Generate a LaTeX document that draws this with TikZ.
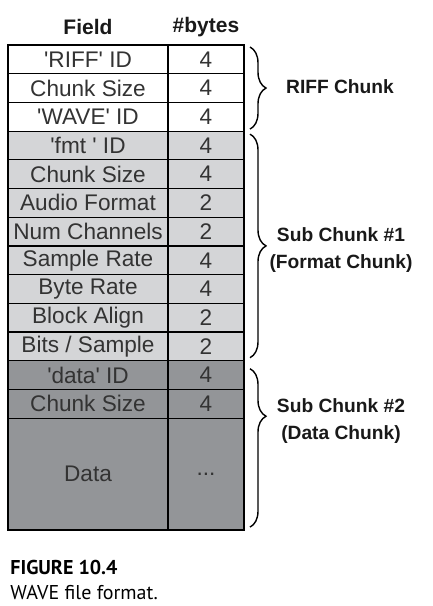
\documentclass[tikz,border=0pt]{standalone}
\usepackage{fontspec}
\setmainfont{Liberation Sans}
\newfontfamily\capfont{PT Sans}
\usepackage{tikz}
\usetikzlibrary{positioning,decorations.pathreplacing}

\definecolor{lightcell}{HTML}{D4D5D7}
\definecolor{darkcell}{HTML}{939598}
\definecolor{inktext}{HTML}{333333}
\newcommand{\fourcc}[1]{\textquotesingle#1\textquotesingle}

\begin{document}
\begin{tikzpicture}
	[x=0.5pt, y=-0.5pt, node distance=0pt,
	 field/.style = {draw, shape=rectangle, line width=0.6pt, outer sep=0pt, inner sep=0pt,
	                 minimum width=80pt, minimum height=14.35pt, text=inktext,
	                 font=\fontsize{11.3}{13}\selectfont},
	 bytes/.style = {field, minimum width=38pt},
	 head/.style  = {font=\bfseries\fontsize{10.5}{12}\selectfont, text=black!90},
	 chunk/.style = {font=\bfseries\fontsize{9.6}{13.5}\selectfont, align=center, text=black!90},
	 brace/.style = {draw, line width=0.7pt, decorate,
	                 decoration={brace, amplitude=8pt}},
	]

	\useasboundingbox (0,0) rectangle (433,606);

	% header
	\node [head] (fieldh) at (88,27)  {Field};
	\node [head] (bytesh) at (206,27) {\#bytes};

	% field column
	\node [field, fill=white] (riffid) at (88,59.35) {\fourcc{RIFF} ID};
	\node [field, fill=white, below=of riffid]   (riffsize) {Chunk Size};
	\node [field, fill=white, below=of riffsize] (waveid)   {\fourcc{WAVE} ID};
	\node [field, fill=lightcell, below=of waveid]   (fmtid)    {\fourcc{fmt\ } ID};
	\node [field, fill=lightcell, below=of fmtid]    (fmtsize)  {Chunk Size};
	\node [field, fill=lightcell, below=of fmtsize]  (audiofmt) {Audio Format};
	\node [field, fill=lightcell, below=of audiofmt] (numch)    {Num Channels};
	\node [field, fill=lightcell, below=of numch]    (srate)    {Sample Rate};
	\node [field, fill=lightcell, below=of srate]    (brate)    {Byte Rate};
	\node [field, fill=lightcell, below=of brate]    (balign)   {Block Align};
	\node [field, fill=lightcell, below=of balign]   (bits)     {Bits / Sample};
	\node [field, fill=darkcell, below=of bits]      (dataid)   {\fourcc{data} ID};
	\node [field, fill=darkcell, below=of dataid]    (datasize) {Chunk Size};
	\node [field, fill=darkcell, below=of datasize, minimum height=56pt] (data) {Data};

	% bytes column
	\node [bytes, fill=white, right=of riffid]       (riffidb)   {4};
	\node [bytes, fill=white, right=of riffsize]     (riffsizeb) {4};
	\node [bytes, fill=white, right=of waveid]       (waveidb)   {4};
	\node [bytes, fill=lightcell, right=of fmtid]    (fmtidb)    {4};
	\node [bytes, fill=lightcell, right=of fmtsize]  (fmtsizeb)  {4};
	\node [bytes, fill=lightcell, right=of audiofmt] (audiofmtb) {2};
	\node [bytes, fill=lightcell, right=of numch]    (numchb)    {2};
	\node [bytes, fill=lightcell, right=of srate]    (srateb)    {4};
	\node [bytes, fill=lightcell, right=of brate]    (brateb)    {4};
	\node [bytes, fill=lightcell, right=of balign]   (balignb)   {2};
	\node [bytes, fill=lightcell, right=of bits]     (bitsb)     {2};
	\node [bytes, fill=darkcell, right=of dataid]    (dataidb)   {4};
	\node [bytes, fill=darkcell, right=of datasize]  (datasizeb) {4};
	\node [bytes, fill=darkcell, right=of data, minimum height=56pt] (datab) {...};

	% outer frame
	\draw [line width=1pt] (riffid.north west) rectangle (datab.south east);

	% braces
	\draw [brace] ([xshift=3pt, yshift=-1pt]riffidb.north east)
	           -- ([xshift=3pt, yshift=1pt]waveidb.south east);
	\draw [brace] ([xshift=3pt, yshift=-1.5pt]fmtidb.north east)
	           -- ([xshift=3pt, yshift=1.5pt]bitsb.south east);
	\draw [brace, decoration={brace, amplitude=8pt, aspect=0.3}]
	              ([xshift=3pt, yshift=-4pt]dataidb.north east)
	           -- ([xshift=3pt, yshift=1.5pt]datab.south east);

	% chunk labels
	\node [chunk] (riffl) at (340,87)  {RIFF Chunk};
	\node [chunk] (fmtl)  at (341,250) {Sub Chunk \#1\\(Format Chunk)};
	\node [chunk] (datal) at (341,421) {Sub Chunk \#2\\(Data Chunk)};

	% caption
	\node [anchor=west, inner sep=0pt, font=\capfont\bfseries\fontsize{10}{12}\selectfont]
	      (figno) at (10,567) {FIGURE 10.4};
	\node [anchor=west, inner sep=0pt, font=\capfont\fontsize{10}{12}\selectfont]
	      (figcap) at (10,593) {WAVE file format.};

\end{tikzpicture}
\end{document}
